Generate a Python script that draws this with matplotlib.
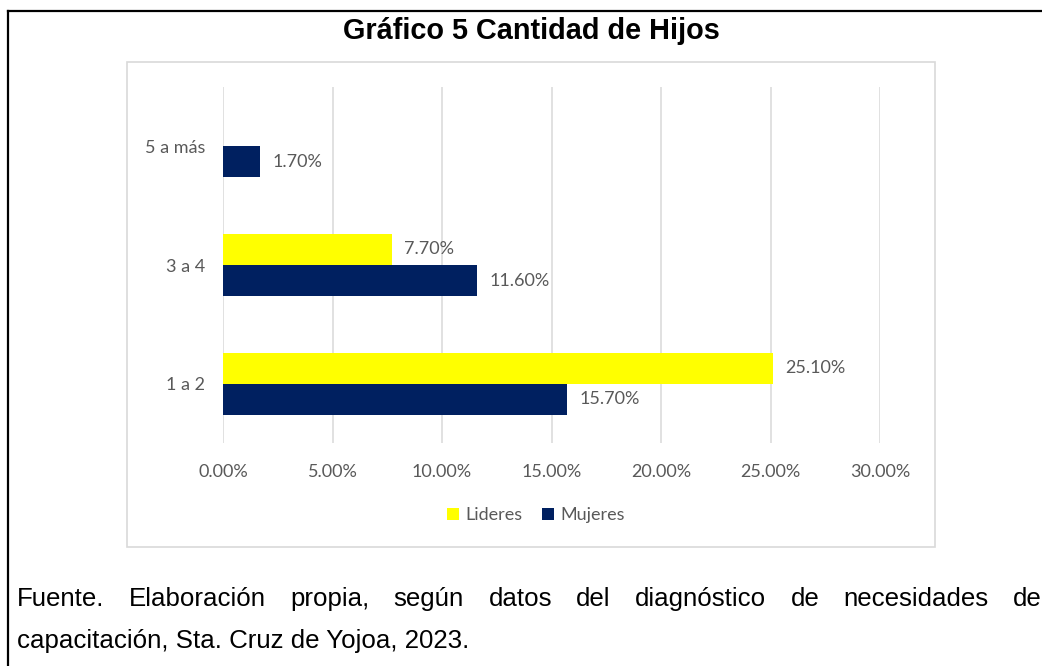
import numpy as np
import matplotlib
matplotlib.use("Agg")
import matplotlib.pyplot as plt
from matplotlib.patches import Rectangle, Patch
from matplotlib.lines import Line2D

categories = ["1 a 2", "3 a 4", "5 a más"]
lideres = [25.1, 7.7, np.nan]
mujeres = [15.7, 11.6, 1.7]
xticks = [0, 5, 10, 15, 20, 25, 30]
title = "Gráfico 5 Cantidad de Hijos"
footer1 = "Fuente. Elaboración propia, según datos del diagnóstico de necesidades de"
footer2 = "capacitación, Sta. Cruz de Yojoa, 2023."

W, H = 1042, 666
fig = plt.figure(figsize=(W / 100, H / 100), dpi=100)
fig.patch.set_facecolor("white")

def fx(px):
    return px / W

def fy(py):
    return 1 - py / H

AX_FONT = "Lato"
FS = 13
GRAY_TXT = "#595959"
GRID = "#d9d9d9"
YEL = "#FFFF00"
NAVY = "#002060"

ax = fig.add_axes([fx(223), fy(443), fx(880) - fx(223), fy(87) - fy(443)])
y = np.arange(len(categories))
h = 0.262
ax.barh(y + h / 2, lideres, height=h, color=YEL, zorder=3)
ax.barh(y - h / 2, mujeres, height=h, color=NAVY, zorder=3)

for yi, v in zip(y, lideres):
    if not np.isnan(v):
        ax.annotate(f"{v:.2f}%", (v, yi + h / 2), xytext=(9, 0), textcoords="offset points",
                    va="center", ha="left", color=GRAY_TXT, fontsize=FS, family=AX_FONT)
for yi, v in zip(y, mujeres):
    ax.annotate(f"{v:.2f}%", (v, yi - h / 2), xytext=(9, 0), textcoords="offset points",
                va="center", ha="left", color=GRAY_TXT, fontsize=FS, family=AX_FONT)

ax.set_xlim(0, 30)
ax.set_ylim(-0.5, len(categories) - 0.5)
ax.set_xticks(xticks)
ax.set_xticklabels([f"{t:.2f}%" for t in xticks], family=AX_FONT, fontsize=FS, color=GRAY_TXT)
ax.set_yticks(y)
ax.set_yticklabels(categories, family=AX_FONT, fontsize=FS, color=GRAY_TXT)
ax.tick_params(axis="both", length=0)
ax.tick_params(axis="x", pad=15)
ax.tick_params(axis="y", pad=13)
ax.grid(axis="x", color=GRID, linewidth=1.1, zorder=0)
for s in ax.spines.values():
    s.set_visible(False)

handles = [Patch(facecolor=YEL, label="Lideres"), Patch(facecolor=NAVY, label="Mujeres")]
leg = fig.legend(handles=handles, loc="center", bbox_to_anchor=(fx(536), fy(515)), ncol=2,
                 frameon=False, handlelength=0.65, handleheight=0.65, handletextpad=0.35,
                 columnspacing=1.1, prop={"family": AX_FONT, "size": FS})
for t in leg.get_texts():
    t.set_color(GRAY_TXT)

# chart box
fig.add_artist(Rectangle((fx(127), fy(547)), fx(935) - fx(127), fy(62) - fy(547),
                         transform=fig.transFigure, fill=False, edgecolor=GRID, linewidth=1.2))
# black frame
fig.add_artist(Line2D([fx(8), 1], [fy(11), fy(11)], transform=fig.transFigure, color="black", linewidth=1.6))
fig.add_artist(Line2D([fx(8), fx(8)], [fy(11), 0], transform=fig.transFigure, color="black", linewidth=1.6))

fig.text(fx(531), fy(31), title, ha="center", va="center", family="Liberation Sans",
         fontweight="bold", fontsize=20.8, color="black")

# justified footer first line
FT = dict(family="Liberation Sans", fontsize=18.6, color="black", va="center")
words = footer1.split(" ")
renderer = fig.canvas.get_renderer()
widths = []
for w_ in words:
    t = fig.text(0, 0, w_, **FT)
    bb = t.get_window_extent(renderer=renderer)
    widths.append(bb.width)
    t.remove()
left, right = 17, 1042
gap = (right - left - sum(widths)) / (len(words) - 1)
xpos = left
for w_, wd in zip(words, widths):
    fig.text(fx(xpos), fy(599), w_, ha="left", **FT)
    xpos += wd + gap
fig.text(fx(17), fy(641), footer2, ha="left", **FT)

fig.savefig("out.png", dpi=100, facecolor="white")
